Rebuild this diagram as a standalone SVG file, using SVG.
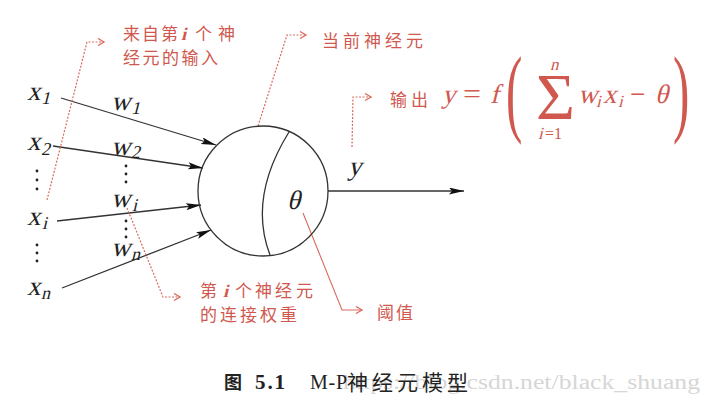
<svg xmlns="http://www.w3.org/2000/svg" width="704" height="409" viewBox="0 0 704 409">
<style>
.m{font-family:"Liberation Serif",serif;fill:#222;font-size:27px}
.ms{font-family:"Liberation Serif",serif;fill:#222;font-size:18px}
.r{font-family:"Liberation Serif",serif;fill:#d0584e;font-size:27px}
.rs{font-family:"Liberation Serif",serif;fill:#d0584e;font-size:17px}
.ru{font-family:"Liberation Serif",serif;fill:#d0584e}
.cj{font-family:"Noto Sans CJK SC",sans-serif;fill:#d0584e;font-size:17px}
.ri{font-family:"Liberation Serif",serif;font-weight:bold;fill:#d0584e;font-size:18px}
.blk{stroke:#333;stroke-width:1.3;fill:none}
.dot{stroke:#d96a5c;stroke-width:1.2;fill:none;stroke-dasharray:2 1.5}
.sol{stroke:#d96a5c;stroke-width:1.1;fill:none}
</style>
<defs>
<marker id="ah" markerUnits="userSpaceOnUse" markerWidth="16" markerHeight="8" refX="15" refY="3.5" orient="auto">
<path d="M0,0 L15,3.5 L0,7 L3,3.5 z" fill="#111"/>
</marker>
<marker id="rh" markerUnits="userSpaceOnUse" markerWidth="9" markerHeight="9" refX="7" refY="4" orient="auto">
<path d="M1,0.5 L7,4 L1,7.5" fill="none" stroke="#d96a5c" stroke-width="1.3"/>
</marker>
</defs>
<rect width="704" height="409" fill="#fff"/>

<g id="connectors">
<line class="blk" x1="61" y1="98" x2="216" y2="145" marker-end="url(#ah)"/>
<line class="blk" x1="53" y1="146" x2="203" y2="168" marker-end="url(#ah)"/>
<line class="blk" x1="57" y1="221" x2="201" y2="205" marker-end="url(#ah)"/>
<line class="blk" x1="62" y1="288" x2="211" y2="230" marker-end="url(#ah)"/>
<line class="blk" x1="328" y1="191" x2="464" y2="191" marker-end="url(#ah)"/>
<polyline class="dot" points="47,200 87,42 104,42" marker-end="url(#rh)"/>
<polyline class="dot" points="258,126 287,35 306,35" marker-end="url(#rh)"/>
<polyline class="dot" points="352,147 353,97 371,97" marker-end="url(#rh)"/>
<polyline class="dot" points="127,208 163,297 180,297" marker-end="url(#rh)"/>
<polyline class="sol" points="303,213 342,310 362,310" marker-end="url(#rh)"/>
</g>

<g id="neuron">
<circle cx="263" cy="191" r="65" class="blk"/>
<path d="M289,132 Q248,198 270,255" class="blk"/>
<text class="m" transform="translate(287,209) skewX(-14)">θ</text>
</g>

<g id="inputs">
<text class="m" transform="translate(27,100) skewX(-14)">x</text><text class="ms" transform="translate(41,104) skewX(-14)">1</text>
<text class="m" transform="translate(27,150) skewX(-14)">x</text><text class="ms" transform="translate(41,155) skewX(-14)">2</text>
<g fill="#222"><circle cx="37" cy="171" r="1.4"/><circle cx="37" cy="180" r="1.4"/><circle cx="37" cy="189" r="1.4"/></g>
<text class="m" transform="translate(27,225) skewX(-14)">x</text><text class="ms" transform="translate(42,229) skewX(-14)">i</text>
<g fill="#222"><circle cx="37" cy="245" r="1.4"/><circle cx="37" cy="253" r="1.4"/><circle cx="37" cy="261" r="1.4"/></g>
<text class="m" transform="translate(27,295) skewX(-14)">x</text><text class="ms" transform="translate(41,299) skewX(-14)">n</text>
</g>

<g id="weights">
<text class="m" transform="translate(111,110) skewX(-14)">w</text><text class="ms" transform="translate(131,114) skewX(-14)">1</text>
<text class="m" transform="translate(111,155) skewX(-14)">w</text><text class="ms" transform="translate(131,158) skewX(-14)">2</text>
<g fill="#222"><circle cx="126" cy="166" r="1.4"/><circle cx="126" cy="174" r="1.4"/><circle cx="126" cy="182" r="1.4"/></g>
<text class="m" transform="translate(111,207) skewX(-14)">w</text><text class="ms" transform="translate(132,211) skewX(-14)">i</text>
<g fill="#222"><circle cx="126" cy="221" r="1.4"/><circle cx="126" cy="229" r="1.4"/><circle cx="126" cy="237" r="1.4"/></g>
<text class="m" transform="translate(111,256) skewX(-14)">w</text><text class="ms" transform="translate(131,260) skewX(-14)">n</text>
</g>

<g id="output">
<text class="m" transform="translate(348,175) skewX(-14)">y</text>
</g>

<g id="note-input">
<text class="cj" y="40" x="123 142 161">来自第</text>
<text class="ri" transform="translate(181,40) skewX(-14)">i</text>
<text class="cj" y="40" x="195 218">个神</text>
<text class="cj" y="64" x="123 142.5 162 181.5 201">经元的输入</text>
</g>

<g id="note-neuron">
<text class="cj" y="47" x="322 343 364 385 406">当前神经元</text>
</g>

<g id="note-output">
<text class="cj" font-size="16" y="106" x="390 411">输出</text>
<text class="r" transform="translate(442,103) skewX(-14)">y</text>
<text class="ru" x="463" y="103" font-size="27" textLength="18" lengthAdjust="spacingAndGlyphs">=</text>
<text class="r" transform="translate(490,103) skewX(-14)">f</text>
<text class="ru" font-size="98" transform="translate(506,124) scale(0.5,1)">(</text>
<text class="ru" font-size="66" x="536" y="119" textLength="39" lengthAdjust="spacingAndGlyphs">Σ</text>
<text class="rs" transform="translate(550,70) skewX(-14)">n</text>
<text class="rs" transform="translate(538,139) skewX(-14)">i</text>
<text class="ru" x="545" y="139" font-size="16">=1</text>
<text class="r" transform="translate(578,103) skewX(-14)">w</text>
<text class="rs" transform="translate(596,107) skewX(-14)">i</text>
<text class="r" transform="translate(603,103) skewX(-14)">x</text>
<text class="rs" transform="translate(618,107) skewX(-14)">i</text>
<text class="ru" x="630" y="103" font-size="27">−</text>
<text class="r" transform="translate(655,103) skewX(-14)">θ</text>
<text class="ru" font-size="98" transform="translate(673,124) scale(0.5,1)">)</text>
</g>

<g id="note-weight">
<text class="cj" y="297" x="200">第</text>
<text class="ri" transform="translate(223,297) skewX(-14)">i</text>
<text class="cj" y="297" x="235 255 275 296">个神经元</text>
<text class="cj" y="321" x="200 220 240 260 280">的连接权重</text>
</g>

<g id="note-threshold">
<text class="cj" y="319" x="377 396">阈值</text>
</g>

<g id="caption">
<text x="343" y="389" font-family="Liberation Serif, serif" font-size="20" fill="#d6d6d6" textLength="357" lengthAdjust="spacingAndGlyphs">https://blog.csdn.net/black_shuang</text>
<text x="224" y="389" font-family="Noto Sans CJK SC, sans-serif" font-weight="bold" font-size="18" fill="#222">图</text>
<text x="255" y="389" font-family="Liberation Serif, serif" font-weight="bold" font-size="21" fill="#222" textLength="30">5.1</text>
<text x="310" y="389" font-family="Liberation Serif, serif" font-size="20" fill="#222" textLength="37">M-P</text>
<text x="347" y="390" font-family="Noto Sans CJK SC, sans-serif" font-size="21" fill="#222" letter-spacing="4">神经元模型</text>
</g>
</svg>
